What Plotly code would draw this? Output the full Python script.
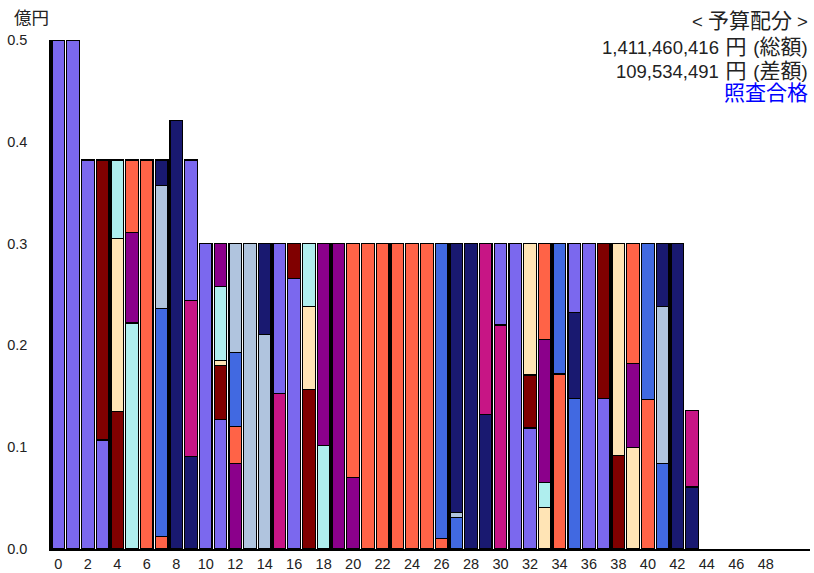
import plotly.graph_objects as go

# ---- data -------------------------------------------------------------
bars = list(range(44))
x_tick_vals = list(range(0, 50, 2))
y_tick_vals = [0.0, 0.1, 0.2, 0.3, 0.4, 0.5]
y_tick_text = ["0.0", "0.1", "0.2", "0.3", "0.4", "0.5"]

palette = {
    "S": "#7B68EE",  # mediumslateblue
    "M": "#800000",  # maroon
    "W": "#FFE4B5",  # moccasin
    "T": "#AFEEEE",  # paleturquoise
    "D": "#8B008B",  # darkmagenta
    "O": "#FF6347",  # tomato
    "R": "#4169E1",  # royalblue
    "L": "#B0C4DE",  # lightsteelblue
    "N": "#191970",  # midnightblue
    "V": "#C71585",  # mediumvioletred
}

n = None
layer1_vals = [0.5, 0.5, 0.382, 0.107, 0.135, 0.222, 0.382, 0.012, 0.421, 0.091,
               0.3, 0.127, 0.084, 0.3, 0.211, 0.153, 0.266, 0.157, 0.102, 0.3,
               0.070, 0.3, 0.3, 0.3, 0.3, 0.3, 0.010, 0.031, 0.3, 0.132,
               0.220, 0.3, 0.119, 0.041, 0.172, 0.148, 0.3, 0.148, 0.092, 0.100,
               0.147, 0.084, 0.3, 0.061]
layer1_cols = ["S", "S", "S", "S", "M", "T", "O", "O", "N", "N",
               "S", "S", "D", "L", "L", "V", "S", "M", "T", "D",
               "D", "O", "O", "O", "O", "O", "O", "R", "N", "N",
               "V", "S", "S", "W", "O", "R", "S", "S", "M", "W",
               "O", "R", "N", "N"]

layer2_vals = [n, n, n, 0.275, 0.170, 0.089, n, 0.224, n, 0.153,
               n, 0.053, 0.036, n, 0.089, 0.147, 0.034, 0.081, 0.198, n,
               0.230, n, n, n, n, n, 0.290, 0.005, n, 0.168,
               0.080, n, 0.052, 0.024, 0.128, 0.084, n, 0.152, 0.208, 0.082,
               0.153, 0.154, n, 0.075]
layer2_cols = ["", "", "", "M", "W", "D", "", "R", "", "V",
               "", "M", "O", "", "N", "S", "M", "W", "D", "",
               "O", "", "", "", "", "", "R", "L", "", "V",
               "S", "", "M", "T", "R", "N", "", "M", "W", "D",
               "R", "L", "", "V"]

layer3_vals = [n, n, n, n, 0.077, 0.071, n, 0.121, n, 0.138,
               n, 0.005, 0.073, n, n, n, n, 0.062, n, n,
               n, n, n, n, n, n, n, 0.264, n, n,
               n, n, 0.129, 0.141, n, 0.068, n, n, n, 0.118,
               n, 0.062, n, n]
layer3_cols = ["", "", "", "", "T", "O", "", "L", "", "S",
               "", "W", "R", "", "", "", "", "T", "", "",
               "", "", "", "", "", "", "", "N", "", "",
               "", "", "W", "D", "", "S", "", "", "", "O",
               "", "N", "", ""]

layer4_vals = [n] * 7 + [0.025] + [n] * 3 + [0.073, 0.107] + [n] * 20 + [0.094] + [n] * 10
layer4_cols = [""] * 7 + ["N"] + [""] * 3 + ["T", "L"] + [""] * 20 + ["O"] + [""] * 10

layer5_vals = [n] * 11 + [0.042] + [n] * 32
layer5_cols = [""] * 11 + ["D"] + [""] * 32

total_amount = "1,411,460,416"
diff_amount = "109,534,491"
unit_text = "億円"

# ---- figure -----------------------------------------------------------
FONT = "Liberation Sans, Arial, Noto Sans CJK JP, sans-serif"


def cjk(s):
    return '<span style="font-size:21px">' + s + '</span>'


SP = '<span style="font-size:24px"> </span>'

title_lines = [
    "&lt; " + cjk("予算配分") + " &gt;",
    total_amount + SP + cjk("円") + SP + "(" + cjk("総額") + ")",
    diff_amount + SP + cjk("円") + SP + "(" + cjk("差額") + ")",
]
status_text = cjk("照査合格")

fig = go.Figure()
for vals, cols in [(layer1_vals, layer1_cols), (layer2_vals, layer2_cols),
                   (layer3_vals, layer3_cols), (layer4_vals, layer4_cols),
                   (layer5_vals, layer5_cols)]:
    fig.add_trace(go.Bar(
        x=bars, y=vals, width=0.86,
        marker=dict(color=[palette.get(c, "rgba(0,0,0,0)") for c in cols],
                    line=dict(color="black", width=1.3)),
        showlegend=False, hoverinfo="skip",
    ))

fig.update_layout(
    barmode="stack",
    width=814, height=573,
    margin=dict(l=51, r=4, t=40, b=24),
    paper_bgcolor="white", plot_bgcolor="white",
    font=dict(family=FONT, size=14, color="#222"),
    xaxis=dict(range=[-0.5, 51], tickvals=x_tick_vals, showgrid=False,
               zeroline=False, showline=True, linecolor="black", linewidth=1.5,
               ticks="", ticklabelstandoff=1, tickfont=dict(size=14.5),
               automargin=False),
    yaxis=dict(range=[0, 0.5], tickvals=y_tick_vals, ticktext=y_tick_text,
               showgrid=False, zeroline=False, showline=True, linecolor="black",
               linewidth=1.5, ticks="", ticklabelstandoff=19,
               tickfont=dict(size=14.5), automargin=False),
)

annos = [dict(text=unit_text, x=12, y=18, xanchor="left", size=17.5)]
for i, t in enumerate(title_lines):
    annos.append(dict(text=t, x=810, y=[21, 45.5, 69][i], xanchor="right"))
annos.append(dict(text=status_text, x=810, y=92.5, xanchor="right", color="#0000FF"))

for a in annos:
    fig.add_annotation(
        text=a["text"], xref="paper", yref="paper",
        x=(a["x"] - 51) / 759, y=(548.5 - a["y"]) / 508.5,
        xanchor=a["xanchor"], yanchor="middle", showarrow=False,
        font=dict(size=a.get("size", 18.5), color=a.get("color", "#222"), family=FONT),
    )

fig.write_html("out.html", config={"displayModeBar": False},
               post_script="document.body.style.margin='0';")
